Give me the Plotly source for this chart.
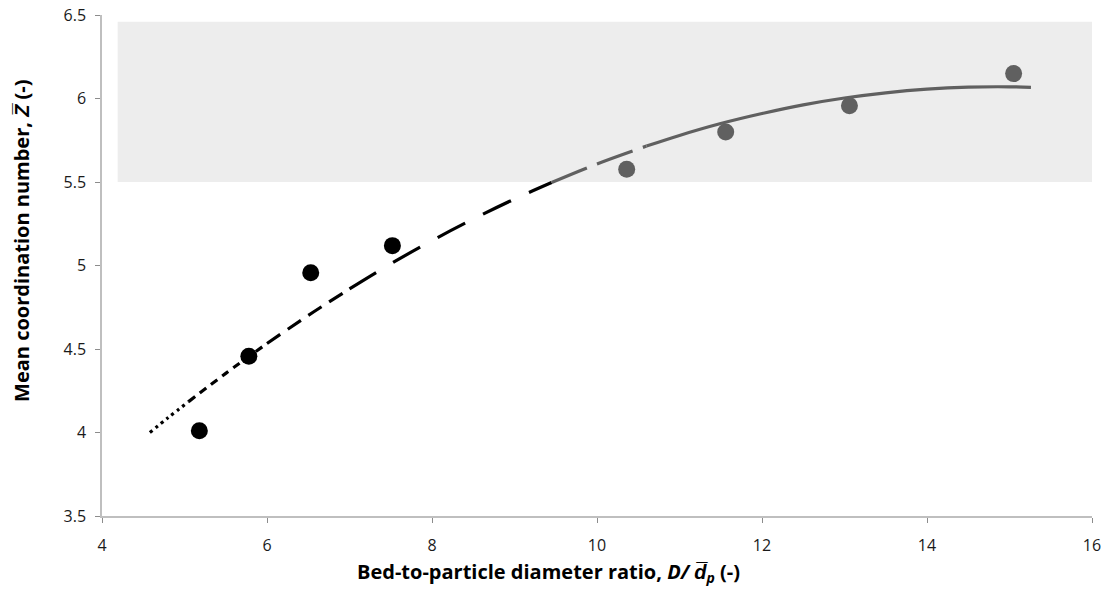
import plotly.graph_objects as go

black_x = [5.18, 5.78, 6.53, 7.52]
black_y = [4.01, 4.456, 4.957, 5.119]
gray_x = [10.36, 11.56, 13.06, 15.05]
gray_y = [5.576, 5.80, 5.957, 6.149]

# Trend curve
curve_x = [4.58, 4.8, 5.05, 5.5, 6.0, 6.5, 7.0, 7.5, 8.0, 8.5, 9.0, 9.45,
           10.0, 10.6, 11.0, 11.5, 12.0, 12.5, 13.0, 13.5, 14.0, 14.5, 15.0, 15.26]
curve_y = [4.000, 4.088, 4.185, 4.354, 4.533, 4.701, 4.860, 5.010, 5.149, 5.278, 5.398, 5.497,
           5.608, 5.715, 5.779, 5.850, 5.910, 5.962, 6.003, 6.034, 6.056, 6.068, 6.070, 6.067]

# Shaded region
shade_x = [4.19, 16.08]
shade_y = [5.5, 6.46]

x_ticks = [4, 6, 8, 10, 12, 14, 16]
y_ticks = [3.5, 4, 4.5, 5, 5.5, 6, 6.5]

x_title = "<b>Bed-to-particle diameter ratio, <i>D/ d̅<sub>p</sub></i> (-)</b>"
y_title = "<b>Mean coordination number, <i>Z̅</i> (-)</b>"

BLACK = "#000000"
GRAY = "#606060"
FONT = "Open Sans, sans-serif"

fig = go.Figure()

# curve segments: (start index, end index, color, dash)
segments = [
    (0, 2, BLACK, "3px,4px"),
    (2, 4, BLACK, "8px,6px"),
    (4, 6, BLACK, "16px,9px"),
    (6, 11, BLACK, "31px,20px"),
    (11, 13, GRAY, "38px,11px"),
    (13, 23, GRAY, "solid"),
]
for i0, i1, col, dash in segments:
    fig.add_trace(go.Scatter(
        x=curve_x[i0:i1 + 1], y=curve_y[i0:i1 + 1], mode="lines",
        line=dict(color=col, width=3.2, dash=dash, shape="spline"),
        showlegend=False, hoverinfo="skip"))

fig.add_trace(go.Scatter(x=black_x, y=black_y, mode="markers",
                         marker=dict(color=BLACK, size=17), showlegend=False))
fig.add_trace(go.Scatter(x=gray_x, y=gray_y, mode="markers",
                         marker=dict(color=GRAY, size=17), showlegend=False))

fig.add_shape(type="rect", x0=shade_x[0], x1=shade_x[1], y0=shade_y[0], y1=shade_y[1],
              xref="x", yref="y", fillcolor="#ededed", line=dict(width=0), layer="below")

fig.add_annotation(text=x_title, xref="paper", yref="paper", x=0.4515, y=-0.112,
                   xanchor="center", yanchor="middle", showarrow=False,
                   font=dict(family=FONT, size=20, color="#000000"))
fig.add_annotation(text=y_title, xref="paper", yref="paper", x=-0.0808, y=0.549,
                   xanchor="center", yanchor="middle", showarrow=False, textangle=-90,
                   font=dict(family=FONT, size=20, color="#000000"))

fig.update_layout(
    width=1111, height=594,
    margin=dict(l=102, r=19, t=15, b=78, autoexpand=False),
    plot_bgcolor="white", paper_bgcolor="white",
    font=dict(family=FONT, size=16, color="#1a1a1a"),
    xaxis=dict(
        range=[4, 16], tickvals=x_ticks, ticktext=[str(v) for v in x_ticks],
        showgrid=False, zeroline=False, showline=True, linecolor="#bfbfbf", linewidth=1.5,
        ticks="outside", ticklen=5, tickcolor="#8c8c8c", tickwidth=1,
        ticklabelstandoff=9, automargin=False,
    ),
    yaxis=dict(
        range=[3.5, 6.5], tickvals=y_ticks, ticktext=[f"{v:g}" for v in y_ticks],
        showgrid=False, zeroline=False, showline=True, linecolor="#bfbfbf", linewidth=1.5,
        ticks="outside", ticklen=5, tickcolor="#8c8c8c", tickwidth=1,
        ticklabelstandoff=6, automargin=False,
    ),
)

fig.write_html("out.html")
